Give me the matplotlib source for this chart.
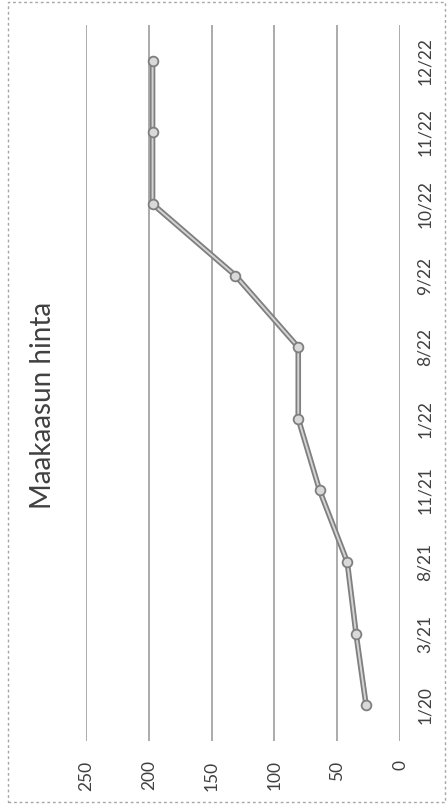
import matplotlib.pyplot as plt
from matplotlib.patches import Rectangle

months = ["1/20", "3/21", "8/21", "11/21", "1/22", "8/22", "9/22", "10/22", "11/22", "12/22"]
prices = [27, 35, 42, 64, 81, 81, 131, 197, 197, 197]
value_ticks = [0, 50, 100, 150, 200, 250]

plt.rcParams['font.family'] = ['Lato', 'DejaVu Sans']

W, H = 448, 811
fig = plt.figure(figsize=(W / 100, H / 100), dpi=100)
fig.patch.set_facecolor("white")

# the original chart is landscape, printed rotated 90 degrees
ax = fig.add_axes([86 / W, 1 - 741 / H, (400 - 86) / W, (741 - 25) / H])
pos = list(range(len(months)))

for v in value_ticks:
    ax.axvline(v, color="#949494", lw=1.1, zorder=1)

ax.plot(prices, pos, color="#7f7f7f", lw=4, zorder=2, solid_capstyle="round")
ax.plot(prices, pos, color="#d4d4d4", lw=1.4, zorder=3,
        marker="o", markersize=7, markerfacecolor="#d9d9d9",
        markeredgecolor="#7f7f7f", markeredgewidth=1.3)

ax.set_xlim(250, 0)
ax.set_ylim(-0.5, len(months) - 0.5)
ax.set_xticks(value_ticks)
ax.set_xticklabels([str(v) for v in value_ticks], rotation=90)
ax.set_yticks(pos)
ax.set_yticklabels(months, rotation=90, va="center")
ax.yaxis.tick_right()
ax.tick_params(axis="x", length=0, pad=14, labelsize=12.5, labelcolor="#404040")
ax.tick_params(axis="y", length=0, pad=12, labelsize=12.5, labelcolor="#404040")
for s in ax.spines.values():
    s.set_visible(False)

fig.text(43 / W, 1 - 405 / H, "Maakaasun hinta", rotation=90,
         ha="center", va="center", fontsize=20, color="#404040")

fig.patches.append(Rectangle((8 / W, 1 - 802 / H), (445 - 8) / W, (802 - 2) / H,
                             transform=fig.transFigure, fill=False,
                             edgecolor="#a6a6a6", lw=1, linestyle=(0, (2, 2))))

fig.savefig("out.png", dpi=100)
